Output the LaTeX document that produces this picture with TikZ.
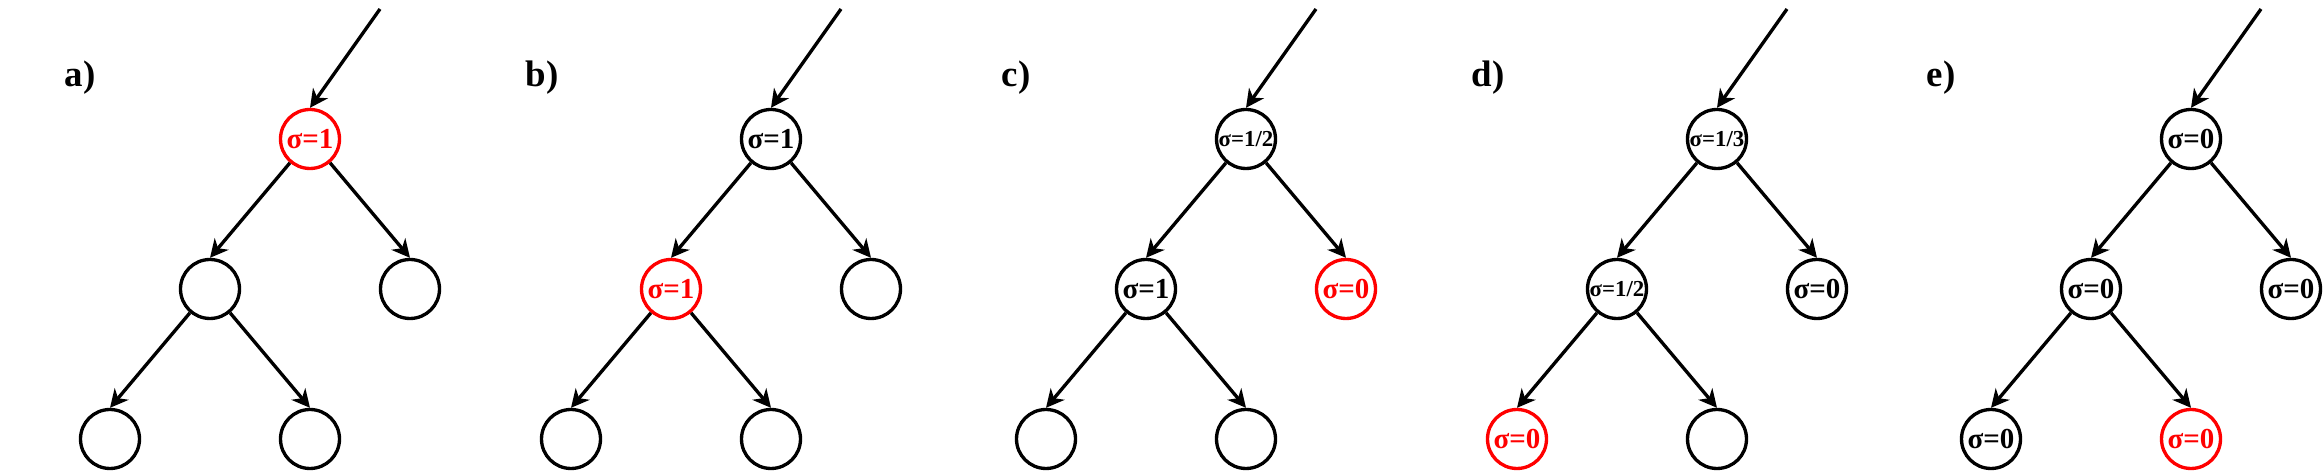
\documentclass[tikz,border=0pt]{standalone}
\usepackage{fontspec}
\setmainfont{Liberation Serif}
\usetikzlibrary{arrows.meta, positioning}
\tikzset{
  treenode/.style={
    circle,
    draw=black,
    line width=1.9pt,
    minimum size=1.18cm,
    inner sep=0pt,
    font=\fontsize{16.5}{16.5}\selectfont\bfseries
  },
  panellabel/.style={
    font=\fontsize{21}{21}\selectfont\bfseries
  },
  treearrow/.style={-{Stealth[length=0.36cm, width=0.36cm, inset=0.11cm]}, line width=1.9pt, draw=black}
}
\newcommand{\fracsize}{\fontsize{13}{13}\selectfont}

\begin{document}
\begin{tikzpicture}[on grid]
  \useasboundingbox (0,0) rectangle (46.46,9.42);
  % one panel per step: label, tree texts and colours
  \foreach \p/\x/\lx/\ta/\ca/\tb/\cb/\tc/\cc/\td/\cd/\te/\ce in {
      a/6.2/1.6/{σ=1}/red/{}/black/{}/black/{}/black/{}/black,
      b/15.42/10.84/{σ=1}/black/{σ=1}/red/{}/black/{}/black/{}/black,
      c/24.92/20.32/{\fracsize σ=1/2}/black/{σ=1}/black/{σ=0}/red/{}/black/{}/black,
      d/34.34/29.76/{\fracsize σ=1/3}/black/{\fracsize σ=1/2}/black/{σ=0}/black/{σ=0}/red/{}/black,
      e/43.82/38.82/{σ=0}/black/{σ=0}/black/{σ=0}/black/{σ=0}/black/{σ=0}/red}{
    \node[panellabel] (label\p) at (\lx,7.86) {\p)};
    \node[treenode, draw=\ca, text=\ca] (root\p) at (\x,6.64) {\ta};
    \node[treenode, draw=\cb, text=\cb, below left=3cm and 2cm of root\p] (mid\p) {\tb};
    \node[treenode, draw=\cc, text=\cc, below right=3cm and 2cm of root\p] (side\p) {\tc};
    \node[treenode, draw=\cd, text=\cd, below left=3cm and 2cm of mid\p] (leafl\p) {\td};
    \node[treenode, draw=\ce, text=\ce, below right=3cm and 2cm of mid\p] (leafr\p) {\te};
    \coordinate (in\p) at (\x+1.4,9.24);

    \draw[treearrow] (in\p) -- (root\p.north);
    \draw[treearrow] (root\p) -- (mid\p.north);
    \draw[treearrow] (root\p) -- (side\p.north);
    \draw[treearrow] (mid\p) -- (leafl\p.north);
    \draw[treearrow] (mid\p) -- (leafr\p.north);
  }
\end{tikzpicture}
\end{document}
